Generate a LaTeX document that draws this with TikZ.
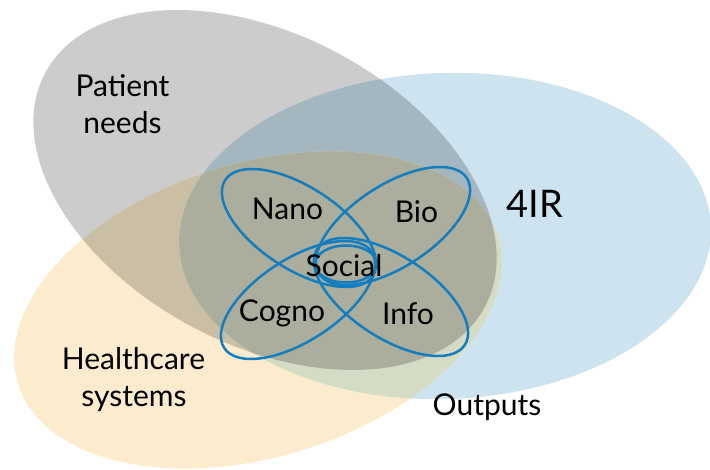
\documentclass[tikz,border=0pt]{standalone}
\usepackage{fontspec}
\setmainfont{Lato}
\definecolor{cG}{HTML}{CCCCCC}
\definecolor{cB}{HTML}{CDE4F0}
\definecolor{cY}{HTML}{FCECCD}
\definecolor{cGB}{HTML}{A4B6C0}
\definecolor{cGY}{HTML}{CABFA5}
\definecolor{cBY}{HTML}{D5DCC6}
\definecolor{cGBY}{HTML}{ABAE9C}
\definecolor{petalc}{RGB}{20,125,190}
\begin{document}
\begin{tikzpicture}[x=1pt,y=1pt,
  gT/.style={rotate around={-28:(265,280)}},
  bT/.style={rotate around={2:(445,234)}},
  yT/.style={rotate around={17:(258,160)}},
  lbl/.style={font=\fontsize{30}{36}\selectfont, anchor=base, inner sep=0pt},
  big/.style={font=\fontsize{38}{44}\selectfont, anchor=base, inner sep=0pt},
  petal/.style={draw=petalc, line width=2.5pt}]
\useasboundingbox (0,0) rectangle (710,470);
% single regions
\fill[cG,gT] (265,280) ellipse (249 and 155);
\fill[cB,bT] (445,234) ellipse (266 and 163);
\fill[cY,yT] (258,160) ellipse (251 and 147);
% pairwise overlaps
\begin{scope}
  \clip[gT] (265,280) ellipse (249 and 155);
  \fill[cGB,bT] (445,234) ellipse (266 and 163);
  \fill[cGY,yT] (258,160) ellipse (251 and 147);
\end{scope}
\begin{scope}
  \clip[bT] (445,234) ellipse (266 and 163);
  \fill[cBY,yT] (258,160) ellipse (251 and 147);
\end{scope}
% triple overlap
\begin{scope}
  \clip[gT] (265,280) ellipse (249 and 155);
  \clip[bT] (445,234) ellipse (266 and 163);
  \fill[cGBY,yT] (258,160) ellipse (251 and 147);
\end{scope}
% petals
\draw[petal, rotate around={-33:(299,242)}] (299,242) ellipse (88 and 41);
\draw[petal, rotate around={33:(393,244)}] (393,244) ellipse (88 and 41);
\draw[petal, rotate around={33:(298,170)}] (298,170) ellipse (88 and 41);
\draw[petal, rotate around={-33:(391,173)}] (391,173) ellipse (88 and 41);
\draw[petal] (346,206) ellipse (31 and 18.5);
% labels
\node[lbl] (pat1) at (122.5,373) {Patient};
\node[lbl] (pat2) at (122.5,336) {needs};
\node[lbl] (hc1) at (133.5,100) {Healthcare};
\node[lbl] (hc2) at (134,63) {systems};
\node[lbl] (out) at (487,54) {Outputs};
\node[big] (fir) at (535,252) {4IR};
\node[lbl] (nano) at (287.5,250) {Nano};
\node[lbl] (bio) at (416.5,247) {Bio};
\node[lbl] (soc) at (344,193) {Social};
\node[lbl] (cog) at (282,148) {Cogno};
\node[lbl] (info) at (408,145) {Info};
\end{tikzpicture}
\end{document}
